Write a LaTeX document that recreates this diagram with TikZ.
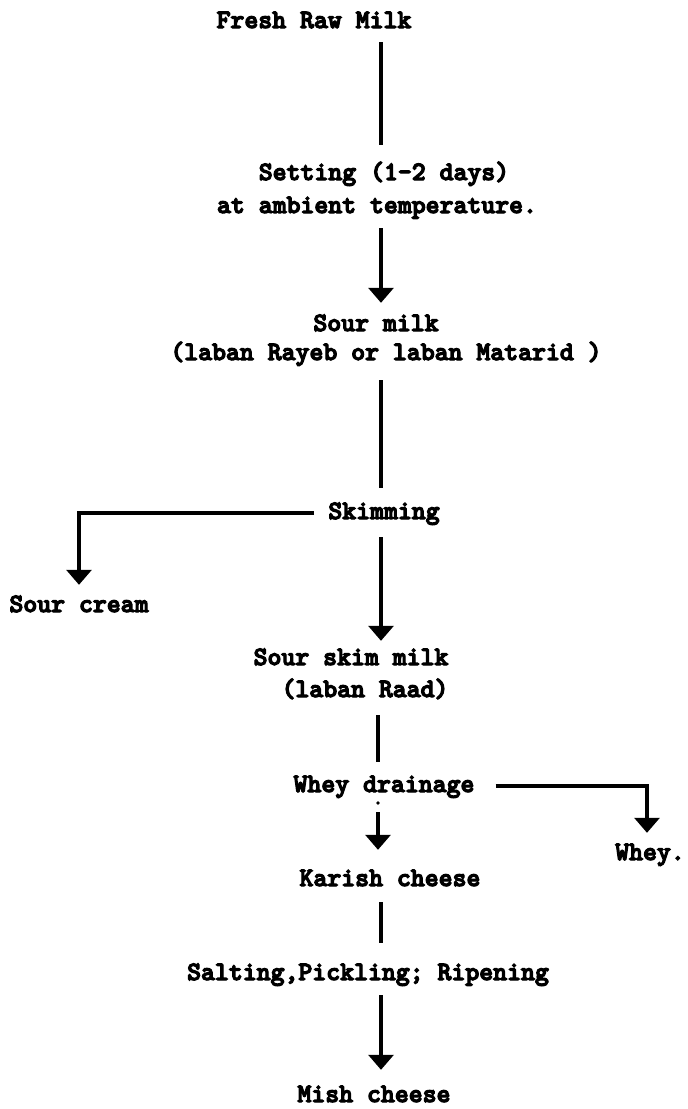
\documentclass[tikz,border=0pt]{standalone}
\usepackage{fontspec}
\newfontfamily\tw{lmmonolt10-bold.otf}[FakeBold=4.5]
\usetikzlibrary{arrows.meta}
\begin{document}
\begin{tikzpicture}[x=1pt,y=-1pt,
  txt/.style={font=\tw\fontsize{26.5}{32}\selectfont, inner sep=0pt,
              text height=17pt, text depth=5pt, anchor=base},
  conn/.style={line width=3.2pt, draw=black},
  arr/.style={conn, -{Triangle[width=25pt,length=15pt]}}]
\useasboundingbox (0,0) rectangle (688,1109);
\fill[white] (0,0) rectangle (688,1109);
% axes
\coordinate (ax) at (381,0);
\coordinate (bx) at (378,0);
\coordinate (wx) at (647,0);
% nodes
\node[txt] (fresh)  at (314,28)   {Fresh Raw Milk};
\node[txt] (set1)   at (384,180)  {Setting (1-2 days)};
\node[txt] (set2)   at (377,213)  {at ambient temperature.};
\node[txt] (sour1)  at (376,331)  {Sour milk};
\node[txt] (sour2)  at (386,360)  {(laban Rayeb or laban Matarid )};
\node[txt] (skim)   at (384,519)  {Skimming};
\node[txt] (cream)  at (79,612)   {Sour cream};
\node[txt] (ssm1)   at (351,665)  {Sour skim milk};
\node[txt] (ssm2)   at (365,697)  {(laban Raad)};
\node[txt] (drain)  at (384,792)  {Whey drainage};
\node[txt] (whey)   at (650,860)  {Whey.};
\node[txt] (karish) at (390,886)  {Karish cheese};
\node[txt] (salt)   at (368,980)  {Salting,Pickling; Ripening};
\node[txt] (mish)   at (374,1102) {Mish cheese};
% connectors
\draw[conn, shorten <=9pt, shorten >=18pt] (fresh.south -| ax) -- (set1.north -| ax);
\draw[arr, shorten <=10pt, shorten >=11pt] (set2.south -| ax) -- (sour1.north -| ax);
\draw[conn, shorten <=15pt, shorten >=14pt] (sour2.south -| ax) -- (skim.north -| ax);
\draw[arr, shorten <=13pt, shorten >=7pt] (skim.south -| ax) -- (ssm1.north -| ax);
\draw[arr, shorten <=14pt, shorten >=10pt] (skim.west) -| (cream.north);
\draw[conn, shorten <=13pt, shorten >=13pt] (ssm2.south -| bx) -- (drain.north -| bx);
\fill (378,803) circle (1.8pt);
\draw[arr, shorten <=15pt, shorten >=19pt] (drain.south -| bx) -- (karish.north -| bx);
\draw[arr, shorten <=21pt, shorten >=10pt] (drain.east) -- (drain.east -| wx) -- (whey.north -| wx);
\draw[conn, shorten <=11pt, shorten >=20pt] (karish.south -| ax) -- (salt.north -| ax);
\draw[arr, shorten <=10pt, shorten >=15pt] (salt.south -| ax) -- (mish.north -| ax);
\end{tikzpicture}
\end{document}
